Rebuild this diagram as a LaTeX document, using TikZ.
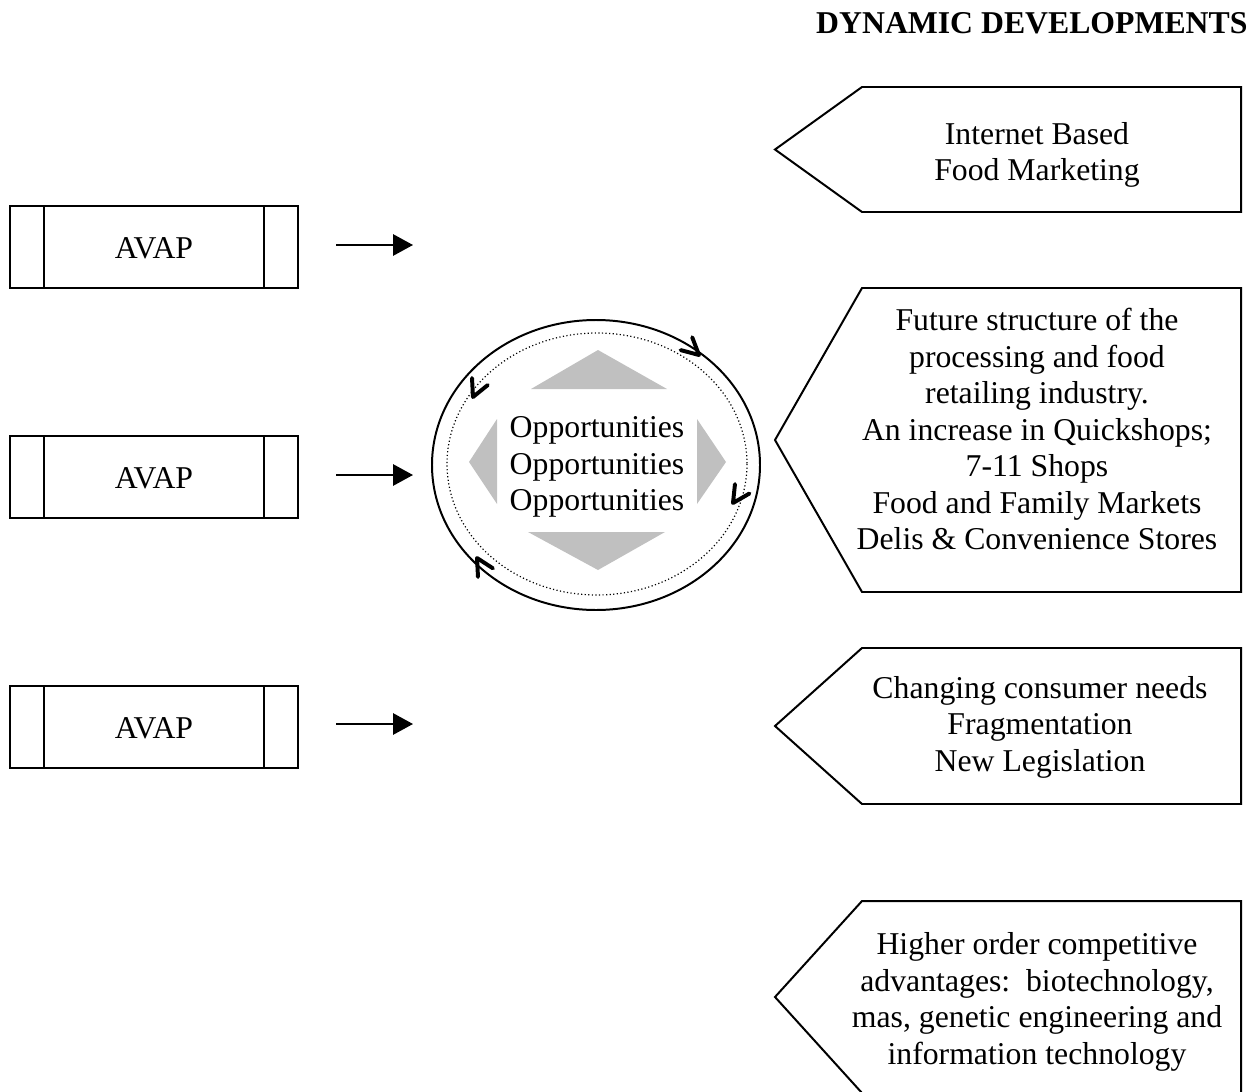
\documentclass[tikz,border=0pt]{standalone}
\usepackage{fontspec}
\setmainfont{Liberation Serif}
\usepackage{tikz}
\usetikzlibrary{
    arrows.meta,
    positioning
}
\definecolor{ink} {HTML}{000000}
\definecolor{wedge}{HTML}{C0C0C0}

% one open arrow tip on the cycle: tip coordinate, pointing angle
\newcommand{\cyctip}[2]{%
    \draw[cycmark] (#1) ++(#2+207:19) -- (#1) -- ++(#2+153:19);}

\begin{document}
\begin{tikzpicture}[
    x=0.378pt, y=-0.378pt,
    line cap=butt, line join=miter,
    every node/.style = {font=\fontsize{12}{13.8}\selectfont, text=ink},
    %% --- semantic styles ---
    outline/.style   = {draw=ink, line width=0.75pt},
    avapbox/.style   = {rectangle, draw=ink, line width=0.75pt,
                        minimum width=109.2pt, minimum height=31pt,
                        inner sep=0pt, text height=8.6pt, text depth=0pt,
                        path picture={
                          \draw[line width=0.75pt]
                            ([xshift=13.2pt]path picture bounding box.north west) --
                            ([xshift=13.2pt]path picture bounding box.south west)
                            ([xshift=-13.2pt]path picture bounding box.north east) --
                            ([xshift=-13.2pt]path picture bounding box.south east);}},
    devtext/.style   = {align=center, inner sep=0pt},
    flow/.style      = {-{Triangle[length=7.5pt, width=8pt]}, draw=ink,
                        line width=0.75pt},
    cycmark/.style   = {draw=ink, line width=1.5pt, line cap=round,
                        line join=round},
    titlelabel/.style= {font=\fontsize{12}{13.8}\selectfont\bfseries}
]
\clip (0,0) rectangle (1260,1092);

%% =====================================================
%% Title
%% =====================================================
\node[titlelabel, anchor=base east, inner sep=0pt] (TITLE) at (1248,34)
    {DYNAMIC DEVELOPMENTS};

%% =====================================================
%% AVAP boxes with arrows
%% =====================================================
\node[avapbox] (A1) at (154,247) {AVAP};
\node[avapbox] (A2) at (154,477) {AVAP};
\node[avapbox] (A3) at (154,727) {AVAP};

\coordinate (E1) at (413,245);
\coordinate (E2) at (413,475);
\coordinate (E3) at (413,724);
\foreach \A/\E in {A1/E1, A2/E2, A3/E3}
    \draw[flow] ([xshift=14pt]\A.east |- \E) -- (\E);

%% =====================================================
%% Opportunities cycle
%% =====================================================
\fill[wedge] (598,350) -- (667,389) -- (531,389) -- cycle;
\fill[wedge] (598,570) -- (665,532) -- (528,532) -- cycle;
\fill[wedge] (469,462) -- (497,419) -- (497,504) -- cycle;
\fill[wedge] (726,462) -- (697,419) -- (697,504) -- cycle;

\draw[outline] (596,465) ellipse [x radius=164, y radius=145];
\draw[draw=ink, line width=0.45pt, dash pattern=on 0.45pt off 0.9pt]
    (597,464) ellipse [x radius=150, y radius=131];

\node[devtext] (OPP) at (597,467)
    {Opportunities\\Opportunities\\Opportunities};

\coordinate (T1) at (699,355);
\coordinate (T2) at (473,397);
\coordinate (T3) at (733,503);
\coordinate (T4) at (477,558);
\cyctip{T1}{42}
\cyctip{T2}{114}
\cyctip{T3}{123}
\cyctip{T4}{240}

%% =====================================================
%% DYNAMIC DEVELOPMENTS -- pointed boxes
%% =====================================================
\foreach \t/\b in {87/212, 288/592, 648/804, 901/1093}
    \draw[outline] (775,{(\t+\b)/2}) -- (862,\t) -- (1241,\t)
                   -- (1241,\b) -- (862,\b) -- cycle;

\node[devtext] (INTERNET) at (1037,155)
    {Internet Based\\Food Marketing};
\node[devtext] (STRUCTURE) at (1037,429)
    {Future structure of the\\processing and food\\retailing industry.\\
     An increase in Quickshops;\\7-11 Shops\\Food and Family Markets\\
     Delis \& Convenience Stores};
\node[devtext] (CONSUMER) at (1040,727)
    {Changing consumer needs\\Fragmentation\\New Legislation};
\node[devtext] (HIGHER) at (1037,1002)
    {Higher order competitive\\advantages:\ \ biotechnology,\\
     mas, genetic engineering and\\information technology};

\end{tikzpicture}
\end{document}
